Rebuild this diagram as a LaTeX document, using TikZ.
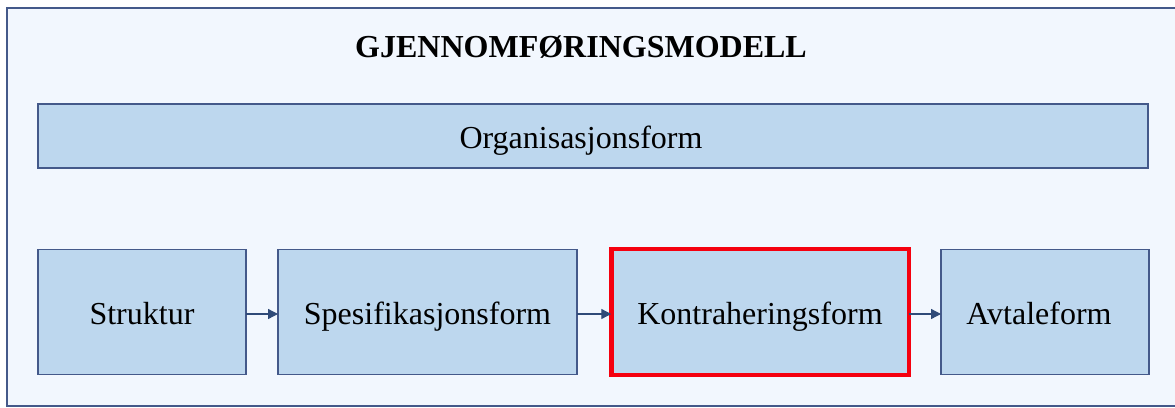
\documentclass[tikz,border=0pt]{standalone}
\usepackage{fontspec}
\setmainfont{Liberation Serif}
\usetikzlibrary{arrows.meta}
\definecolor{pagebg}{HTML}{F2F7FE}
\definecolor{boxfill}{HTML}{BDD7EE}
\definecolor{boxline}{HTML}{44598A}
\definecolor{arrowc}{HTML}{2F4A78}
\definecolor{hilite}{HTML}{F5000F}
\tikzset{
  box/.style={draw=boxline, line width=1.3pt, fill=boxfill, inner sep=0pt, outer sep=0pt,
    font=\fontsize{32}{38}\selectfont, text height=24pt, text depth=0pt},
  flow/.style={draw=arrowc, line width=1.3pt, -{Triangle[length=10pt,width=10pt]}}
}
\begin{document}
\begin{tikzpicture}[x=1pt,y=-1pt]
  \useasboundingbox (0,0) rectangle (1175,407);
  \begin{scope}
    \clip (0,0) rectangle (1175,407);
    \fill[white] (0,0) rectangle (1175,407);
    \draw[boxline, line width=2pt, fill=pagebg] (6.5,7.5) rectangle (1185,405.5);
  \end{scope}
  \node[font=\bfseries\fontsize{32}{38}\selectfont] (title) at (581,47) {GJENNOMFØRINGSMODELL};
  \node[box, minimum width=1110pt, minimum height=64pt] (org) at (593,136) {\kern-24pt Organisasjonsform};
  \node[box, minimum width=208pt, minimum height=125pt] (s1) at (142,312) {Struktur};
  \node[box, minimum width=299pt, minimum height=125pt] (s2) at (427.5,312) {Spesifikasjonsform};
  \node[box, draw=hilite, line width=4.5pt, minimum width=297.5pt, minimum height=126pt] (s3) at (760,312) {Kontraheringsform};
  \node[box, minimum width=208pt, minimum height=125pt] (s4) at (1045,312) {\kern-12pt Avtaleform};
  \draw[flow] ([yshift=-2pt]s1.east) -- ([yshift=-2pt]s2.west);
  \draw[flow] ([yshift=-2pt]s2.east) -- ([yshift=-2pt]s3.west);
  \draw[flow] ([yshift=-2pt]s3.east) -- ([yshift=-2pt]s4.west);
\end{tikzpicture}
\end{document}
